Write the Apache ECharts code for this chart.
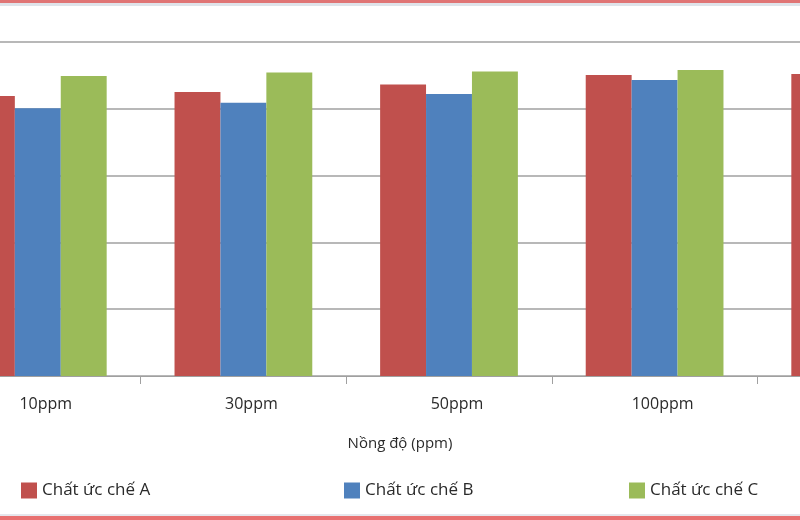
<!DOCTYPE html>
<html>
<head>
<meta charset="utf-8">
<script src="https://cdn.jsdelivr.net/npm/echarts@6/dist/echarts.min.js"></script>
<style>
html,body{margin:0;padding:0;background:#fff;}
#chart{width:800px;height:520px;}
</style>
</head>
<body>
<div id="chart"></div>
<script>
var categories = ['10ppm', '30ppm', '50ppm', '100ppm', '200ppm'];
var seriesNames = ['Chất ức chế A', 'Chất ức chế B', 'Chất ức chế C'];
var valuesA = [83.8, 85.0, 87.3, 90.1, 90.4];
var valuesB = [80.2, 81.8, 84.4, 88.6, 89.5];
var valuesC = [89.8, 90.9, 91.2, 91.6, 92.0];
var axisTitle = 'Nồng độ (ppm)';
var colors = ['#C0504D', '#4F81BD', '#9BBB59'];

var chart = echarts.init(document.getElementById('chart'), null, {renderer: 'canvas'});
var font = '"Open Sans", "Noto Sans", sans-serif';
var legendLefts = [20, 343, 628];
var option = {
  animation: false,
  backgroundColor: '#ffffff',
  title: {
    text: axisTitle,
    left: 'center',
    top: 431,
    textStyle: {fontFamily: font, fontSize: 15, fontWeight: 'normal', color: '#2a2a2a'}
  },
  legend: seriesNames.map(function (n, i) {
    return {
      data: [n], left: legendLefts[i] - 4, top: 477,
      itemWidth: 16, itemHeight: 16, icon: 'rect', itemGap: 6,
      textStyle: {fontFamily: font, fontSize: 17, color: '#2a2a2a'}
    };
  }),
  grid: {left: -65, width: 1028, top: 42, bottom: 144, containLabel: false, outerBoundsMode: 'none'},
  xAxis: {
    type: 'category',
    data: categories,
    axisLine: {lineStyle: {color: '#a0a0a0', width: 1}},
    axisTick: {show: true, length: 8, lineStyle: {color: '#a0a0a0'}},
    axisLabel: {fontFamily: font, fontSize: 16, color: '#2a2a2a', margin: 20, padding: [0, 0, 0, 16]}
  },
  yAxis: {
    type: 'value', min: 0, max: 100, interval: 20,
    axisLabel: {show: false},
    axisLine: {show: false},
    axisTick: {show: false},
    splitLine: {lineStyle: {color: '#a0a0a0', width: 1.5}}
  },
  series: [valuesA, valuesB, valuesC].map(function (d, i) {
    return {
      name: seriesNames[i], type: 'bar', data: d,
      barGap: '0%', barCategoryGap: '33%',
      itemStyle: {color: colors[i]}
    };
  }),
  graphic: [
    {type: 'rect', shape: {x: 0, y: 0, width: 800, height: 3}, style: {fill: '#e07575'}},
    {type: 'rect', shape: {x: 0, y: 3, width: 800, height: 3}, style: {fill: '#dfe4ea'}},
    {type: 'rect', shape: {x: 0, y: 514, width: 800, height: 2}, style: {fill: '#e6e6ec'}},
    {type: 'rect', shape: {x: 0, y: 516, width: 800, height: 4}, style: {fill: '#e87070'}}
  ]
};
chart.setOption(option);
</script>
</body>
</html>
